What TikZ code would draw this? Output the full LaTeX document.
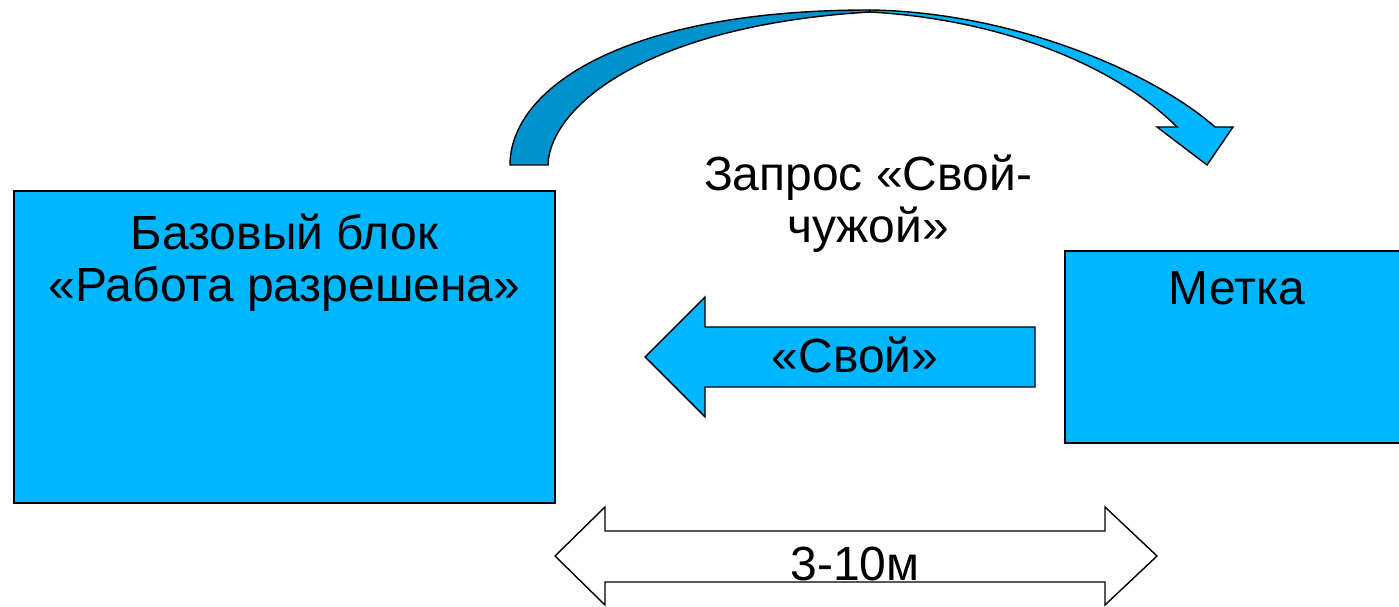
\documentclass[tikz,border=0pt]{standalone}
\usepackage{fontspec}
\setmainfont{Liberation Sans}
\usetikzlibrary{positioning}
\definecolor{boxblue}{RGB}{0,182,255}
\definecolor{darkblue}{RGB}{0,146,204}

\begin{document}
\begin{tikzpicture}[x=0.02cm, y=-0.02cm,
        lbl/.style={font=\fontsize{27.3}{29.8}\selectfont, align=center, inner sep=0pt},
        blk/.style={draw=black, line width=0.8pt, fill=boxblue}]
    \useasboundingbox (0,0) rectangle (1399,607);

    \node[blk, minimum width=10.82cm, minimum height=6.24cm] (base) at (284.5,347) {};
    \node[blk, minimum width=6.9cm, minimum height=3.84cm] (tag) at (1237.5,347) {};
    \node[lbl] (basetext) at (284.5,263) {Базовый блок\\«Работа разрешена»};
    \node[lbl, anchor=base] (tagtext) at (1237,305) {Метка};

    \draw[blk, fill=darkblue] (510,165) .. controls (510,90) and (620,10) .. (870,10)
        -- (870,12) .. controls (650,25) and (550,105) .. (548,165) -- cycle;
    \draw[blk] (870,10) .. controls (1010,12) and (1150,70) .. (1215,127)
        -- (1233,127) -- (1207,165) -- (1157,127) -- (1177,127)
        .. controls (1120,70) and (1010,20) .. (870,12) -- cycle;
    \node[lbl] (query) at (868,204) {Запрос «Свой-\\чужой»};

    \draw[blk] (645,357) -- (705,297) -- (705,327) -- (1035,327) -- (1035,387)
        -- (705,387) -- (705,417) -- cycle;
    \node[lbl, anchor=base] (own) at (855,373) {«Свой»};

    \draw[blk, fill=white] (555,556) -- (605,507) -- (605,531) -- (1105,531) -- (1105,507)
        -- (1157,556) -- (1105,605) -- (1105,582) -- (605,582) -- (605,605) -- cycle;
    \node[lbl, anchor=base] (dist) at (855,580) {3-10м};
\end{tikzpicture}
\end{document}
